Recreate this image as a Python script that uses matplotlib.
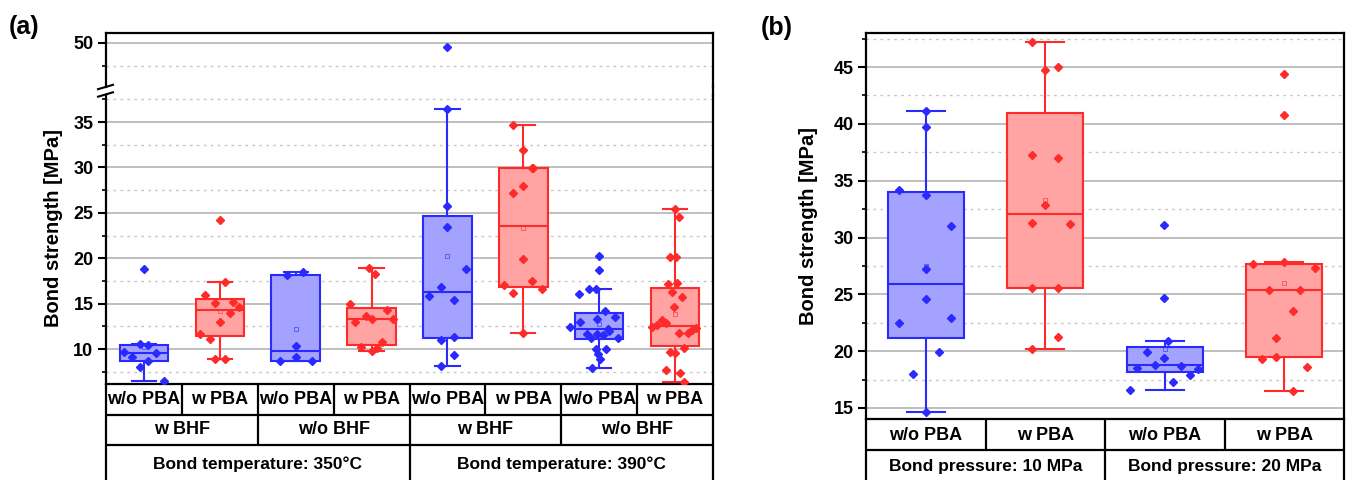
import matplotlib
matplotlib.use('Agg')
import matplotlib.pyplot as plt
from matplotlib.ticker import MultipleLocator
from matplotlib.transforms import Affine2D

plt.rcParams['font.family'] = ['Liberation Sans', 'DejaVu Sans']
plt.rcParams['font.weight'] = 'bold'

# ---- panel (a): bond temperature / BHF / PBA ----
labels_a_pba = ["w/o PBA", "w PBA"] * 4
labels_a_bhf = ["w BHF", "w/o BHF", "w BHF", "w/o BHF"]
labels_a_temp = ["Bond temperature: 350°C", "Bond temperature: 390°C"]

# box statistics: q1, median, q3, whisker low, whisker high, mean
q1_a = [8.72, 11.4, 8.68, 10.44, 11.18, 16.79, 11.14, 10.33]
med_a = [9.6, 14.3, 9.78, 13.27, 16.3, 23.55, 12.2, 12.53]
q3_a = [10.4, 15.54, 18.1, 14.55, 24.6, 29.97, 13.96, 16.76]
wlo_a = [6.48, 8.86, 8.68, 9.8, 8.13, 11.73, 7.94, 6.4]
whi_a = [10.5, 17.34, 18.44, 18.92, 36.46, 34.64, 16.64, 25.45]
mean_a = [10.2, 14.2, 12.24, 13.3, 20.24, 23.3, 12.75, 13.85]

pts_a = [
    [18.85, 10.5, 10.44, 9.67, 9.6, 9.16, 8.72, 8.05, 6.48],
    [24.2, 17.34, 15.95, 15.2, 15.1, 14.6, 14.0, 13.0, 11.7, 11.1, 8.86, 8.86],
    [18.44, 18.1, 10.37, 9.16, 8.68, 8.68],
    [18.92, 18.26, 14.96, 14.26, 13.6, 13.27, 13.27, 12.97, 10.77, 10.2, 10.1, 9.8],
    [49.6, 36.46, 25.8, 23.4, 18.78, 16.8, 15.87, 15.4, 11.36, 11.0, 9.34, 8.13],
    [34.64, 31.95, 29.97, 29.97, 27.9, 27.2, 19.9, 17.5, 17.05, 16.57, 16.2, 11.73],
    [20.3, 18.67, 16.64, 16.57, 16.06, 14.15, 13.49, 13.27, 12.97, 12.46, 12.17,
     12.0, 11.65, 11.65, 11.54, 11.18, 11.18, 10.0, 10.0, 9.45, 8.86, 7.94],
    [25.45, 24.5, 20.17, 20.17, 17.3, 17.16, 16.3, 15.76, 14.66, 13.2, 12.9, 12.64,
     12.46, 12.27, 12.1, 11.8, 11.8, 10.08, 9.64, 9.53, 7.7, 7.4, 6.4],
]
# horizontal spread of the points (category units)
jit_a = [
    [0, -0.05, 0.05, -0.26, 0.16, -0.16, 0.05, -0.05, 0.26],
    [0, 0.07, -0.2, 0.18, -0.07, 0.25, 0.13, 0, -0.26, -0.13, -0.07, 0.07],
    [0.1, -0.12, 0, 0, -0.21, 0.21],
    [-0.04, 0.04, -0.29, 0.21, -0.07, 0, 0.28, -0.22, 0.14, -0.14, 0.07, 0],
    [0, 0, 0, 0, 0.24, -0.08, -0.24, 0.08, 0.08, -0.08, 0.08, -0.08],
    [-0.13, 0, 0.12, 0.13, 0, -0.13, 0, 0.12, -0.26, 0.25, -0.13, 0],
    [0, 0, -0.14, -0.04, -0.26, 0.08, 0.21, -0.03, -0.25, -0.38, 0.12, 0.13,
     -0.16, -0.03, 0.05, 0.25, -0.11, -0.04, 0.09, -0.01, 0.01, -0.09],
    [0, 0.05, -0.07, 0.01, 0.03, -0.09, -0.04, 0.09, -0.01, -0.17, -0.12, -0.24,
     -0.3, 0.28, 0.22, 0.05, 0.17, 0.12, -0.07, 0, -0.12, 0.07, 0.12],
]

# ---- panel (b): bond pressure / PBA ----
labels_b_pba = ["w/o PBA", "w PBA"] * 2
labels_b_press = ["Bond pressure: 10 MPa", "Bond pressure: 20 MPa"]

q1_b = [21.2, 25.53, 18.2, 19.5]
med_b = [25.9, 32.1, 18.8, 25.35]
q3_b = [33.97, 40.97, 20.4, 27.67]
wlo_b = [14.62, 20.16, 16.56, 16.47]
whi_b = [41.12, 47.17, 20.92, 27.84]
mean_b = [27.5, 33.3, 20.19, 25.97]

pts_b = [
    [41.12, 39.7, 34.2, 33.7, 31.0, 27.2, 24.56, 22.94, 22.48, 19.9, 18.02, 14.62],
    [47.17, 45.03, 44.7, 37.3, 37.0, 32.85, 31.3, 31.2, 25.6, 25.53, 21.27, 20.16],
    [31.06, 24.65, 20.92, 19.9, 19.43, 18.8, 18.7, 18.54, 18.4, 17.93, 17.31, 16.56],
    [44.38, 40.8, 27.84, 27.67, 27.3, 25.35, 25.35, 23.5, 21.16, 19.53, 19.28, 18.63, 16.47],
]
jit_b = [
    [0, 0, -0.22, 0, 0.21, 0, 0, 0.21, -0.22, 0.11, -0.11, 0],
    [-0.11, 0.11, 0, -0.11, 0.11, 0, -0.11, 0.21, -0.11, 0.11, 0.11, -0.11],
    [-0.01, -0.01, 0.03, -0.15, -0.01, -0.08, 0.14, -0.23, 0.28, 0.21, 0.07, -0.29],
    [0, 0, 0, -0.26, 0.26, -0.13, 0.13, 0.07, -0.07, -0.07, -0.19, 0.19, 0.07],
]

BLUE_E, BLUE_F = '#2a2aff', '#a3a3ff'
RED_E, RED_F = '#ff2a2a', '#ffa3a3'

W, H = 1355, 480
fig = plt.figure(figsize=(W / 100, H / 100), dpi=100)
px = Affine2D().scale(1 / W, -1 / H).translate(0, 1) + fig.transFigure


def rect(x0, y0, x1, y1):
    # pixel box (top-left origin) -> figure fraction
    return [x0 / W, 1 - y1 / H, (x1 - x0) / W, (y1 - y0) / H]


def draw_boxes(ax, q1, med, q3, wlo, whi, mean, pts, jit):
    for i in range(len(q1)):
        pos = i + 1
        ec, fc = (BLUE_E, BLUE_F) if i % 2 == 0 else (RED_E, RED_F)
        st = [dict(q1=q1[i], med=med[i], q3=q3[i], whislo=wlo[i], whishi=whi[i],
                   mean=mean[i], fliers=[])]
        ax.bxp(st, positions=[pos], widths=0.64, capwidths=0.32, patch_artist=True,
               showmeans=True, manage_ticks=False,
               boxprops=dict(facecolor=fc, edgecolor=ec, linewidth=1.5),
               medianprops=dict(color=ec, linewidth=1.5),
               whiskerprops=dict(color=ec, linewidth=1.5),
               capprops=dict(color=ec, linewidth=1.5),
               meanprops=dict(marker='s', markersize=3.5, markerfacecolor='none',
                              markeredgecolor=ec, markeredgewidth=0.7, alpha=0.6))
        xs = [pos + j for j in jit[i]]
        ax.plot(xs, pts[i], 'D', ms=4.2, color=ec, mec=ec, zorder=5)


def style(ax, lo, hi):
    ax.set_ylim(lo, hi)
    ax.yaxis.set_major_locator(MultipleLocator(5))
    ax.yaxis.set_minor_locator(MultipleLocator(2.5))
    ax.yaxis.grid(True, which='major', color='#b4b4b4', lw=1.2)
    ax.yaxis.grid(True, which='minor', color='#c8c8c8', lw=1, ls=(0, (2, 3)))
    ax.set_axisbelow(True)
    ax.set_xticks([])
    ax.tick_params(axis='y', which='major', direction='out', length=6, width=1.5,
                   labelsize=13, pad=3)
    ax.tick_params(axis='y', which='minor', direction='out', length=3, width=1.2)
    for s in ax.spines.values():
        s.set_linewidth(1.6)


# panel (a): broken y axis
ax_lo = fig.add_axes(rect(106, 94.5, 713, 384))
ax_hi = fig.add_axes(rect(106, 33, 713, 87))
for ax in (ax_lo, ax_hi):
    draw_boxes(ax, q1_a, med_a, q3_a, wlo_a, whi_a, mean_a, pts_a, jit_a)
    ax.set_xlim(0.5, 8.5)
style(ax_lo, 6.15, 38.03)
style(ax_hi, 45.15, 51.1)
ax_lo.spines['top'].set_visible(False)
ax_hi.spines['bottom'].set_visible(False)

# break marks and right spine through the gap
for yb in (87, 94.5):
    fig.add_artist(plt.Line2D([98, 113], [yb + 2.2, yb - 2.2], color='k', lw=1.5, transform=px))
fig.add_artist(plt.Line2D([713, 713], [86, 96], color='k', lw=1.6, transform=px))

# panel (b)
ax_b = fig.add_axes(rect(866, 33, 1344, 419))
draw_boxes(ax_b, q1_b, med_b, q3_b, wlo_b, whi_b, mean_b, pts_b, jit_b)
ax_b.set_xlim(0.5, 4.5)
style(ax_b, 14.03, 48.0)


def tline(ax, xs, ys):
    ax.plot(xs, ys, color='k', lw=1.6, clip_on=False, solid_capstyle='butt')


# table under (a)
ta = fig.add_axes(rect(106, 384, 713, 480))
ta.set_xlim(0.5, 8.5)
ta.set_ylim(0, 96)
ta.axis('off')
tline(ta, [0.5, 0.5], [0, 96])
tline(ta, [8.5, 8.5], [0, 96])
tline(ta, [0.5, 8.5], [65, 65])
tline(ta, [0.5, 8.5], [35, 35])
for k in range(8):
    if k > 0:
        tline(ta, [k + 0.5, k + 0.5], [65, 96])
    ta.text(k + 1, 80, labels_a_pba[k], ha='center', va='center', fontsize=13)
for k in range(4):
    if k > 0:
        tline(ta, [2 * k + 0.5, 2 * k + 0.5], [35, 65])
    ta.text(2 * k + 1.5, 50, labels_a_bhf[k], ha='center', va='center', fontsize=13)
tline(ta, [4.5, 4.5], [0, 35])
for k in range(2):
    ta.text(4 * k + 2.5, 16, labels_a_temp[k], ha='center', va='center', fontsize=12.5)

# table under (b)
tb = fig.add_axes(rect(866, 419, 1344, 480))
tb.set_xlim(0.5, 4.5)
tb.set_ylim(0, 61)
tb.axis('off')
tline(tb, [0.5, 0.5], [0, 61])
tline(tb, [4.5, 4.5], [0, 61])
tline(tb, [0.5, 4.5], [30, 30])
for k in range(4):
    if k > 0:
        tline(tb, [k + 0.5, k + 0.5], [30, 61])
    tb.text(k + 1, 45, labels_b_pba[k], ha='center', va='center', fontsize=13)
tline(tb, [2.5, 2.5], [0, 30])
for k in range(2):
    tb.text(2 * k + 1.5, 14, labels_b_press[k], ha='center', va='center', fontsize=12.5)

# labels
fig.text(54 / W, 1 - 228 / H, "Bond strength [MPa]", rotation=90, ha='center', va='center',
         fontsize=14.5)
fig.text(809 / W, 1 - 226 / H, "Bond strength [MPa]", rotation=90, ha='center', va='center',
         fontsize=14.5)
fig.text(9 / W, 1 - 27 / H, "(a)", ha='left', va='center', fontsize=18)
fig.text(761 / W, 1 - 28 / H, "(b)", ha='left', va='center', fontsize=18)

fig.savefig('out.png', dpi=100)
